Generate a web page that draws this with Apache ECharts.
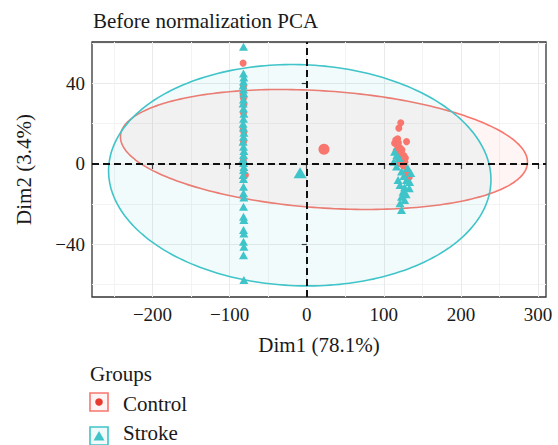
<!DOCTYPE html>
<html>
<head>
<meta charset="utf-8">
<script src="https://cdn.jsdelivr.net/npm/echarts@6/dist/echarts.min.js"></script>
<style>
  html, body { margin: 0; padding: 0; background: #ffffff; }
  #chart { width: 558px; height: 445px; }
</style>
</head>
<body>
<div id="chart"></div>
<script>
// Groups and their styling
const groups = ['Control', 'Stroke'];
const groupColors = ['#F8766D', '#3FC4C9'];

// Individuals on the first two PCA dimensions [Dim1, Dim2]
const controlPoints = [
  [-82.5, 50.1], [-82, 38.5], [-82.5, 34.2], [-82, 32.6], [-81.5, 29.4], [-82, 25.3],
  [-82.5, 17.0], [-81.5, 15.8], [-82, 11.1], [-82, 2.0], [-79.5, -5.5],
  [122, 20.5], [119.5, 17.8], [129.5, 11.1], [115.5, 11.9], [114, 10.3], [117.5, 9.2],
  [121, 8.0], [116, 6.5], [122.5, 5.3], [126, 4.2], [118.5, 3.0], [124, 2.1],
  [127.5, 1.0], [120.5, 0.2], [125.5, -1.0], [129.5, -3.8], [130.5, -5.3], [133, -6.6],
  [118, 12.5], [123.5, 7.0], [128, 3.0], [119, 10.5]
];
const strokePoints = [
  [-82, 58.2], [-82, 45.0], [-81.5, 43.0], [-82, 41.0], [-82.5, 39.0], [-82, 37.0],
  [-81.5, 35.0], [-82, 32.0], [-82.5, 30.0], [-82, 27.5], [-81.5, 25.0], [-82, 22.5],
  [-82.5, 20.0], [-82, 18.0], [-81.5, 15.5], [-82, 13.5], [-82.5, 11.0], [-82, 8.5],
  [-81.5, 6.5], [-82, 4.5], [-82.5, 2.5], [-82, 0.5], [-81.5, -1.5], [-82, -3.0],
  [-82.5, -5.5], [-82, -7.5], [-82, -11.3], [-82, -14.6], [-81.5, -16.7], [-82, -21.2],
  [-82, -26.2], [-81.5, -27.9], [-82, -32.8], [-81.5, -34.5], [-82, -38.7], [-81.5, -41.1],
  [-82, -45.3], [-81.5, -57.7],
  [114, 6.1], [113, 1.1], [116.5, -1.3], [118.5, -8.0], [123, -3.8], [121, -10.4],
  [127, -11.6], [133, -12.1], [125, -13.8], [123, -16.3], [127, -17.9], [123, -22.9],
  [129.5, -8.0], [131, -2.0], [120, 3.0], [126, -6.0], [117, 4.5], [133.5, -9.0],
  [135, -4.5], [121, -19.5], [129, -15.0]
];

// Group centres
const controlMean = [22.4, 7.3];
const strokeMean = [-8.6, -4.4];

// Concentration ellipses: centre x, centre y, half-width, half-height, correlation
const controlEllipse = [22.4, 7.2, 264, 29.8, -0.21];
const strokeEllipse = [-9, -5.6, 248, 55, -0.04];

// Axes
const xRange = [-278.5, 310.4];
const yRange = [-66.1, 60.6];
const xMajorTicks = [-200, -100, 0, 100, 200, 300];
const xMinorTicks = [-250, -150, -50, 50, 150, 250];
const yMajorTicks = [-40, 0, 40];
const yMinorTicks = [-60, -20, 20, 60];

const serif = '"Liberation Serif", "DejaVu Serif", serif';
const textColor = '#1a1a1a';

function fade(hex, a) {
  const n = parseInt(hex.slice(1), 16);
  return 'rgba(' + (n >> 16) + ',' + ((n >> 8) & 255) + ',' + (n & 255) + ',' + a + ')';
}

// Tick labels use a typographic minus sign
function minusLabel(v) {
  return String(v).replace('-', '\u2212');
}

function ellipseSeries(params, color) {
  return {
    type: 'custom',
    xAxisIndex: 0,
    yAxisIndex: 0,
    silent: true,
    z: 1,
    data: [params],
    renderItem: function (p, api) {
      const cx = api.value(0), cy = api.value(1);
      const sx = api.value(2), sy = api.value(3), r = api.value(4);
      const k = Math.sqrt(1 - r * r);
      const pts = [];
      for (let i = 0; i < 240; i++) {
        const t = i / 240 * Math.PI * 2;
        pts.push(api.coord([cx + sx * Math.cos(t), cy + sy * (r * Math.cos(t) + k * Math.sin(t))]));
      }
      return {
        type: 'polygon',
        shape: { points: pts },
        style: { fill: fade(color, 0.075), stroke: color, lineWidth: 1.6 }
      };
    }
  };
}

const majorAxisX = {
  type: 'value', min: xRange[0], max: xRange[1],
  axisLine: { show: false },
  axisTick: { show: true, length: 5, customValues: xMajorTicks, lineStyle: { color: '#333', width: 1.2 } },
  axisLabel: { customValues: xMajorTicks, formatter: minusLabel, color: textColor, fontFamily: serif, fontSize: 19, margin: 8 },
  splitLine: { show: true, lineStyle: { color: '#EAEAEA', width: 1 } },
  name: 'Dim1 (78.1%)', nameLocation: 'middle', nameGap: 37,
  nameTextStyle: { color: textColor, fontFamily: serif, fontSize: 21 }
};
const minorAxisX = {
  type: 'value', min: xRange[0], max: xRange[1],
  axisLine: { show: false },
  axisTick: { show: false, customValues: xMinorTicks },
  axisLabel: { show: false, customValues: xMinorTicks },
  splitLine: { show: true, lineStyle: { color: '#F3F3F3', width: 1 } }
};
const majorAxisY = {
  type: 'value', min: yRange[0], max: yRange[1],
  axisLine: { show: false },
  axisTick: { show: true, length: 5, customValues: yMajorTicks, lineStyle: { color: '#333', width: 1.2 } },
  axisLabel: { customValues: yMajorTicks, formatter: minusLabel, color: textColor, fontFamily: serif, fontSize: 19, margin: 7 },
  splitLine: { show: true, lineStyle: { color: '#EAEAEA', width: 1 } },
  name: 'Dim2 (3.4%)', nameLocation: 'middle', nameGap: 58,
  nameTextStyle: { color: textColor, fontFamily: serif, fontSize: 21 }
};
const minorAxisY = {
  type: 'value', min: yRange[0], max: yRange[1],
  axisLine: { show: false },
  axisTick: { show: false, customValues: yMinorTicks },
  axisLabel: { show: false, customValues: yMinorTicks },
  splitLine: { show: true, lineStyle: { color: '#F3F3F3', width: 1 } }
};

// Legend keys: framed box with the group's marker inside
const legendGraphics = [{
  type: 'text', x: 90, y: 374,
  style: { text: 'Groups', font: '21px ' + serif, fill: textColor, verticalAlign: 'middle', textVerticalAlign: 'middle' }
}];
groups.forEach(function (g, i) {
  const top = 393 + i * 34;
  const cx = 99, cy = top + 9;
  legendGraphics.push({
    type: 'rect', shape: { x: 90, y: top, width: 18, height: 18 },
    style: { fill: fade(groupColors[i], 0.08), stroke: groupColors[i], lineWidth: 1.6 }
  });
  if (i === 0) {
    legendGraphics.push({ type: 'circle', shape: { cx: cx, cy: cy, r: 3.8 }, style: { fill: '#E8392F' } });
  } else {
    legendGraphics.push({
      type: 'polygon',
      shape: { points: [[cx, cy - 5], [cx + 5.5, cy + 4.5], [cx - 5.5, cy + 4.5]] },
      style: { fill: groupColors[i] }
    });
  }
  legendGraphics.push({
    type: 'text', x: 123, y: i === 0 ? 404 : 433,
    style: { text: g, font: '21px ' + serif, fill: textColor, verticalAlign: 'middle', textVerticalAlign: 'middle' }
  });
});

const chart = echarts.init(document.getElementById('chart'), null, { renderer: 'svg' });
chart.setOption({
  animation: false,
  backgroundColor: '#ffffff',
  title: {
    text: 'Before normalization PCA', left: 88, top: 5,
    textStyle: { color: textColor, fontFamily: serif, fontSize: 21, fontWeight: 'normal' }
  },
  grid: {
    left: 92, top: 42, width: 454, height: 255,
    show: true, borderColor: '#333', borderWidth: 1.3, backgroundColor: 'transparent'
  },
  xAxis: [majorAxisX, minorAxisX],
  yAxis: [majorAxisY, minorAxisY],
  graphic: legendGraphics,
  series: [
    ellipseSeries(controlEllipse, groupColors[0]),
    ellipseSeries(strokeEllipse, groupColors[1]),
    {
      type: 'line', data: [], z: 2, silent: true,
      markLine: {
        silent: true, symbol: 'none', label: { show: false },
        lineStyle: { color: '#111', type: [7, 4], width: 2 },
        data: [{ xAxis: 0 }, { yAxis: 0 }]
      }
    },
    {
      name: groups[0], type: 'scatter', z: 3, data: controlPoints,
      symbol: 'circle', symbolSize: 7, itemStyle: { color: groupColors[0], opacity: 1 }
    },
    {
      name: groups[1], type: 'scatter', z: 3, data: strokePoints,
      symbol: 'triangle', symbolSize: [9, 8], itemStyle: { color: groupColors[1], opacity: 1 }
    },
    {
      type: 'scatter', z: 4, data: [controlMean],
      symbol: 'circle', symbolSize: 11, itemStyle: { color: groupColors[0], opacity: 1 }
    },
    {
      type: 'scatter', z: 4, data: [strokeMean],
      symbol: 'triangle', symbolSize: [13, 11], itemStyle: { color: groupColors[1], opacity: 1 }
    }
  ]
});
</script>
</body>
</html>
